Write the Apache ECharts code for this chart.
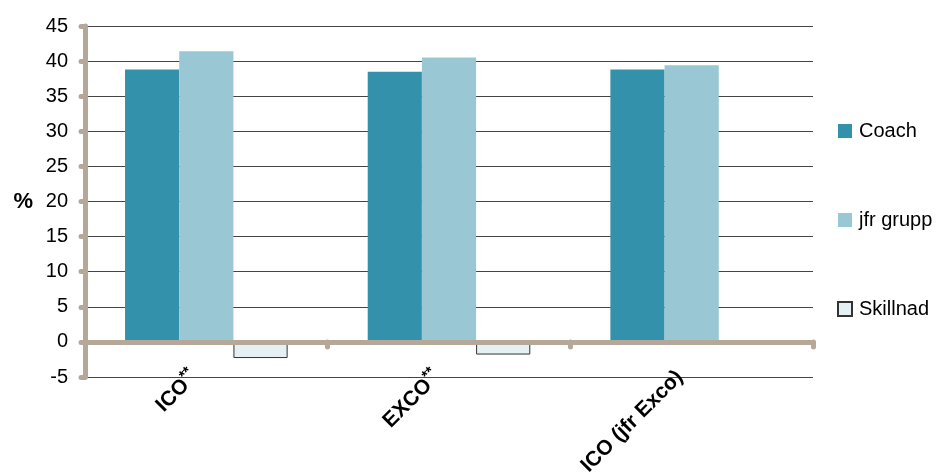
<!DOCTYPE html>
<html>
<head>
<meta charset="utf-8">
<script src="https://cdn.jsdelivr.net/npm/echarts@6/dist/echarts.min.js"></script>
<style>
html,body{margin:0;padding:0;background:#fff;}
#chart{width:939px;height:472px;}
</style>
</head>
<body>
<div id="chart"></div>
<script>
const categories = ['ICO**', 'EXCO**', 'ICO (jfr Exco)'];
const coach = [38.8, 38.5, 38.8];
const jfrGrupp = [41.4, 40.5, 39.4];
const skillnad = [-2.3, -1.8, -0.3];
const seriesNames = ['Coach', 'jfr grupp', 'Skillnad'];
const yTicks = { min: -5, max: 45, interval: 5 };

const FONT = '"Liberation Sans", Arial, sans-serif';
const AXIS = '#B5A899';

const chart = echarts.init(document.getElementById('chart'), null, { renderer: 'canvas' });
chart.setOption({
  animation: false,
  backgroundColor: '#fff',
  textStyle: { fontFamily: FONT },
  grid: { left: 85, right: 126, top: 26, bottom: 95, containLabel: false, outerBoundsMode: 'none' },
  legend: {
    orient: 'vertical',
    left: 832,
    top: 116,
    itemWidth: 14,
    itemHeight: 14,
    itemGap: 69,
    icon: 'rect',
    textStyle: { fontSize: 20, color: '#000', fontFamily: FONT, padding: [0, 0, 0, 2] },
    data: seriesNames
  },
  xAxis: {
    type: 'category',
    data: categories,
    z: 5,
    axisLine: { onZero: true, lineStyle: { color: AXIS, width: 5, cap: 'round' } },
    axisTick: { show: true, length: 5, lineStyle: { color: AXIS, width: 5, cap: 'round' } },
    splitLine: { show: false },
    axisLabel: {
      rotate: 45,
      margin: -15,
      padding: [0, 17, 0, 0],
      interval: 0,
      color: '#000',
      formatter: function (v) {
        if (v.endsWith('**')) return '{a|' + v.slice(0, -2) + '}{s|**}';
        return '{a|' + v + '}';
      },
      rich: {
        a: { fontSize: 21, fontWeight: 'bold', color: '#000', fontFamily: FONT },
        s: { fontSize: 15, fontWeight: 'bold', color: '#000', fontFamily: FONT, verticalAlign: 'top', padding: [0, 0, 12, 0] }
      }
    }
  },
  yAxis: {
    type: 'value',
    min: yTicks.min,
    max: yTicks.max,
    interval: yTicks.interval,
    name: '%',
    nameLocation: 'middle',
    nameRotate: 0,
    nameGap: 52,
    nameTextStyle: { fontSize: 22, fontWeight: 'bold', color: '#000', fontFamily: FONT, padding: [0, 0, 8, 0] },
    axisLine: { show: true, lineStyle: { color: AXIS, width: 5, cap: 'round' } },
    axisTick: { show: true, length: 4, lineStyle: { color: AXIS, width: 5, cap: 'round' } },
    axisLabel: { fontSize: 20, color: '#000', margin: 17, fontFamily: FONT },
    splitLine: { show: true, lineStyle: { color: '#444', width: 1 } }
  },
  series: [
    {
      name: seriesNames[0], type: 'bar', data: coach,
      barGap: '0%', barCategoryGap: '33%',
      itemStyle: { color: '#3391AC' }
    },
    {
      name: seriesNames[1], type: 'bar', data: jfrGrupp,
      barGap: '0%', barCategoryGap: '33%',
      itemStyle: { color: '#99C8D4' }
    },
    {
      name: seriesNames[2], type: 'bar', data: skillnad,
      barGap: '0%', barCategoryGap: '33%',
      itemStyle: { color: '#E4F0F4', borderColor: '#333', borderWidth: 1 }
    }
  ]
});
</script>
</body>
</html>
